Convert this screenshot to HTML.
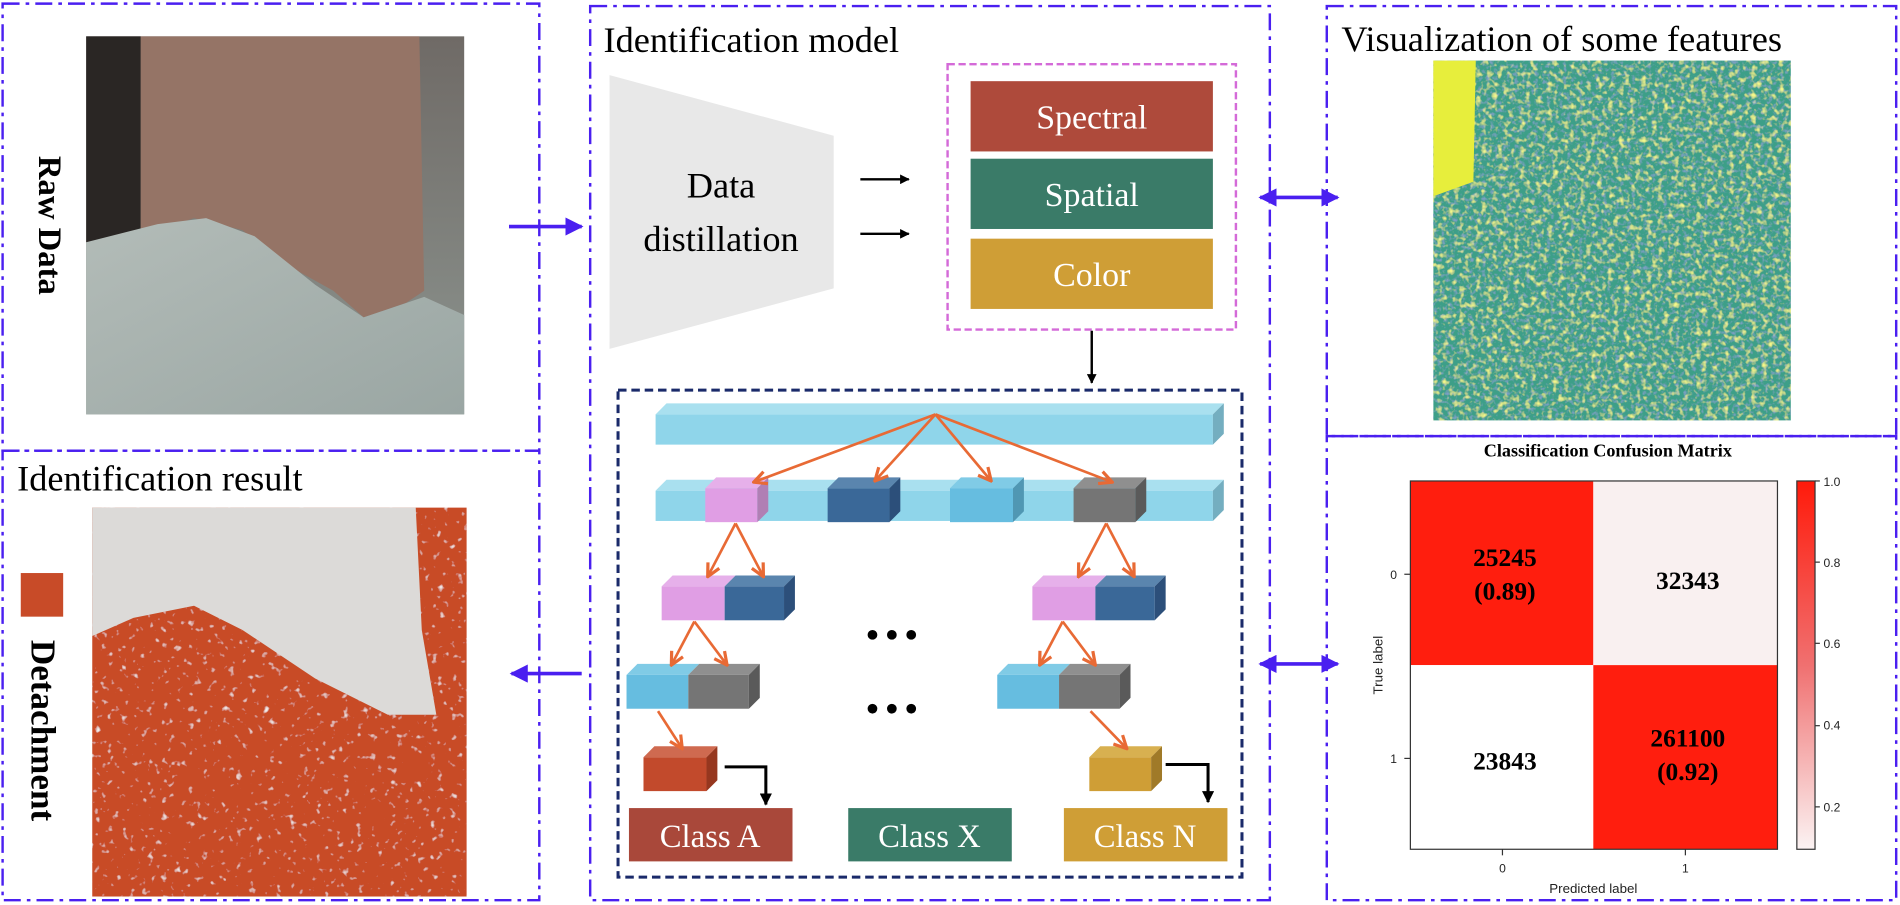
<!DOCTYPE html>
<html><head><meta charset="utf-8"><style>
html,body{margin:0;padding:0;background:#fff;width:1900px;height:905px;overflow:hidden}
svg{display:block}
.t{font-family:"Liberation Serif",serif}
.s{font-family:"Liberation Sans",sans-serif}
</style></head><body>
<svg width="1900" height="905" viewBox="0 0 1568 747" xmlns="http://www.w3.org/2000/svg">
<defs>
<marker id="ab" viewBox="0 0 10 10" refX="9" refY="5" markerWidth="5" markerHeight="5" orient="auto-start-reverse"><path d="M0,0 L10,5 L0,10 z" fill="#4a1ff0"/></marker>
<marker id="ak" viewBox="0 0 10 10" refX="9" refY="5" markerWidth="4" markerHeight="4" orient="auto"><path d="M0,0 L10,5 L0,10 z" fill="#000"/></marker>
<marker id="ao" viewBox="0 0 10 10" refX="9" refY="5" markerWidth="6" markerHeight="6" orient="auto"><path d="M1,1 L9,5 L1,9" fill="none" stroke="#e86a35" stroke-width="2"/></marker>
<linearGradient id="cb" x1="0" y1="0" x2="0" y2="1"><stop offset="0" stop-color="#ff1a0a"/><stop offset="0.5" stop-color="#f07070"/><stop offset="1" stop-color="#fbf3f3"/></linearGradient>
<linearGradient id="raw" x1="0" y1="0" x2="0" y2="1"><stop offset="0" stop-color="#6f6a66"/><stop offset="1" stop-color="#8d9590"/></linearGradient>
<linearGradient id="gr" x1="0" y1="0" x2="1" y2="1"><stop offset="0" stop-color="#b3bcb8"/><stop offset="1" stop-color="#9aa6a3"/></linearGradient>
<filter id="noise" x="0" y="0" width="100%" height="100%">
<feTurbulence type="fractalNoise" baseFrequency="0.22" numOctaves="2" seed="3" result="n1"/>
<feColorMatrix in="n1" type="matrix" values="0 0 0 0 0.9  0 0 0 0 0.93  0 0 0 0 0.25  3 0 0 0 -1.55" result="y"/>
<feTurbulence type="fractalNoise" baseFrequency="0.3" numOctaves="2" seed="11" result="n2"/>
<feColorMatrix in="n2" type="matrix" values="0 0 0 0 0.2  0 0 0 0 0.35  0 0 0 0 0.55  3 0 0 0 -1.5" result="b"/>
<feMerge><feMergeNode in="SourceGraphic"/><feMergeNode in="b"/><feMergeNode in="y"/></feMerge>
</filter>
<filter id="noise2" x="0" y="0" width="100%" height="100%">
<feTurbulence type="fractalNoise" baseFrequency="0.18" numOctaves="2" seed="7"/>
<feColorMatrix type="matrix" values="0 0 0 0 0.9  0 0 0 0 0.88  0 0 0 0 0.86  4 0 0 0 -2.6"/>
<feComposite in2="SourceGraphic" operator="over"/>
</filter>
</defs>
<g fill="none" stroke="#4a1ff0" stroke-width="2" stroke-dasharray="14,5,3,5">
<rect x="2" y="3" width="443" height="369"/>
<rect x="2" y="372" width="443" height="371"/>
<rect x="487" y="5" width="561" height="738"/>
<rect x="1095" y="5" width="470" height="355"/>
<rect x="1095" y="360" width="470" height="383"/>
</g>
<rect x="71" y="30" width="312" height="312" fill="url(#raw)"/>
<rect x="71" y="30" width="45" height="170" fill="#2a2624"/>
<path d="M116,30 L346,30 L350,240 L335,250 L300,262 L275,240 L230,215 L200,190 L160,180 L130,190 L116,200 Z" fill="#957466"/>
<path d="M71,200 L130,185 L170,180 L210,195 L260,235 L300,262 L350,245 L383,260 L383,342 L71,342 Z" fill="url(#gr)"/>
<text class="t" font-weight="bold" font-size="27" transform="translate(32,186) rotate(90)" text-anchor="middle">Raw Data</text>
<line x1="420" y1="187" x2="480" y2="187" stroke="#4a1ff0" stroke-width="3" marker-end="url(#ab)"/>
<text class="t" x="14" y="405" font-size="30">Identification result</text>
<rect x="76" y="419" width="309" height="321" fill="#c84b28" filter="url(#noise2)"/>
<path d="M76,419 L343,419 L348,520 L360,590 L320,590 L260,560 L200,520 L160,500 L110,510 L76,525 Z" fill="#dcdad8"/>
<rect x="17" y="473" width="35" height="36" fill="#c84b28"/>
<text class="t" font-weight="bold" font-size="29" transform="translate(26,603) rotate(90)" text-anchor="middle">Detachment</text>
<line x1="480" y1="556" x2="422" y2="556" stroke="#4a1ff0" stroke-width="3" marker-end="url(#ab)"/>
<text class="t" x="498" y="43" font-size="30">Identification model</text>
<polygon points="503,62 688,112 688,238 503,288" fill="#e8e8e8"/>
<text class="t" x="595" y="163" font-size="30" text-anchor="middle">Data</text>
<text class="t" x="595" y="207" font-size="30" text-anchor="middle">distillation</text>
<line x1="710" y1="148" x2="750" y2="148" stroke="#000" stroke-width="2" marker-end="url(#ak)"/>
<line x1="710" y1="193" x2="750" y2="193" stroke="#000" stroke-width="2" marker-end="url(#ak)"/>
<rect x="782" y="53" width="238" height="219" fill="none" stroke="#d46ad8" stroke-width="2" stroke-dasharray="6,3"/>
<rect x="801" y="67" width="200" height="58" fill="#ae4a3b"/>
<rect x="801" y="131" width="200" height="58" fill="#3a7b68"/>
<rect x="801" y="197" width="200" height="58" fill="#cf9e36"/>
<g class="t" fill="#fff" font-size="28" text-anchor="middle">
<text x="901" y="106">Spectral</text><text x="901" y="170">Spatial</text><text x="901" y="236">Color</text></g>
<line x1="901" y1="273" x2="901" y2="316" stroke="#000" stroke-width="2" marker-end="url(#ak)"/>
<rect x="510" y="322" width="515" height="402" fill="none" stroke="#1a2a6a" stroke-width="2.5" stroke-dasharray="7,4"/>
<g>
<rect x="541" y="342" width="460" height="25" fill="#8fd5ea"/><polygon points="541,342 550,333 1010,333 1001,342" fill="#a9e0ef"/><polygon points="1001,342 1010,333 1010,358 1001,367" fill="#74aec0"/>
<rect x="541" y="405" width="460" height="25" fill="#8fd5ea"/><polygon points="541,405 550,396 1010,396 1001,405" fill="#a9e0ef"/><polygon points="1001,405 1010,396 1010,421 1001,430" fill="#74aec0"/>
</g>
<g>
<rect x="582" y="403" width="43" height="28" fill="#e09ee4"/><polygon points="582,403 591,394 634,394 625,403" fill="#e6b0ea"/><polygon points="625,403 634,394 634,422 625,431" fill="#b07fb4"/>
<rect x="683" y="403" width="51" height="28" fill="#3a6898"/><polygon points="683,403 692,394 743,394 734,403" fill="#5a85ae"/><polygon points="734,403 743,394 743,422 734,431" fill="#2c4f7a"/>
<rect x="784" y="403" width="52" height="28" fill="#66bde0"/><polygon points="784,403 793,394 845,394 836,403" fill="#80cbe6"/><polygon points="836,403 845,394 845,422 836,431" fill="#5097b3"/>
<rect x="886" y="403" width="51" height="28" fill="#757575"/><polygon points="886,403 895,394 946,394 937,403" fill="#8f8f8f"/><polygon points="937,403 946,394 946,422 937,431" fill="#5a5a5a"/>
</g>
<g>
<rect x="546" y="484" width="52" height="28" fill="#e09ee4"/><polygon points="546,484 555,475 607,475 598,484" fill="#e6b0ea"/>
<rect x="598" y="484" width="49" height="28" fill="#3a6898"/><polygon points="598,484 607,475 656,475 647,484" fill="#5a85ae"/><polygon points="647,484 656,475 656,503 647,512" fill="#2c4f7a"/>
<rect x="852" y="484" width="52" height="28" fill="#e09ee4"/><polygon points="852,484 861,475 913,475 904,484" fill="#e6b0ea"/>
<rect x="904" y="484" width="49" height="28" fill="#3a6898"/><polygon points="904,484 913,475 962,475 953,484" fill="#5a85ae"/><polygon points="953,484 962,475 962,503 953,512" fill="#2c4f7a"/>
<rect x="517" y="557" width="51" height="28" fill="#66bde0"/><polygon points="517,557 526,548 577,548 568,557" fill="#80cbe6"/>
<rect x="568" y="557" width="50" height="28" fill="#757575"/><polygon points="568,557 577,548 627,548 618,557" fill="#8f8f8f"/><polygon points="618,557 627,548 627,576 618,585" fill="#5a5a5a"/>
<rect x="823" y="557" width="51" height="28" fill="#66bde0"/><polygon points="823,557 832,548 883,548 874,557" fill="#80cbe6"/>
<rect x="874" y="557" width="50" height="28" fill="#757575"/><polygon points="874,557 883,548 933,548 924,557" fill="#8f8f8f"/><polygon points="924,557 933,548 933,576 924,585" fill="#5a5a5a"/>
<rect x="531" y="625" width="52" height="28" fill="#c24a2c"/><polygon points="531,625 540,616 592,616 583,625" fill="#cf6a50"/><polygon points="583,625 592,616 592,644 583,653" fill="#96371f"/>
<rect x="899" y="625" width="51" height="28" fill="#cf9e36"/><polygon points="899,625 908,616 959,616 950,625" fill="#d8b050"/><polygon points="950,625 959,616 959,644 950,653" fill="#a07a28"/>
</g>
<g stroke="#e86a35" stroke-width="2.2" fill="none" marker-end="url(#ao)">
<line x1="772" y1="342" x2="622" y2="398"/><line x1="772" y1="342" x2="722" y2="397"/><line x1="772" y1="342" x2="818" y2="397"/><line x1="772" y1="342" x2="918" y2="398"/>
<line x1="607" y1="432" x2="584" y2="476"/><line x1="607" y1="432" x2="630" y2="476"/>
<line x1="913" y1="432" x2="890" y2="476"/><line x1="913" y1="432" x2="936" y2="476"/>
<line x1="573" y1="513" x2="554" y2="549"/><line x1="573" y1="513" x2="600" y2="549"/>
<line x1="877" y1="513" x2="858" y2="549"/><line x1="877" y1="513" x2="904" y2="549"/>
<line x1="543" y1="587" x2="563" y2="618"/><line x1="900" y1="587" x2="930" y2="618"/>
</g>
<g fill="#000"><circle cx="720" cy="524" r="4"/><circle cx="736" cy="524" r="4"/><circle cx="752" cy="524" r="4"/>
<circle cx="720" cy="585" r="4"/><circle cx="736" cy="585" r="4"/><circle cx="752" cy="585" r="4"/></g>
<polyline points="598,633 632,633 632,664" fill="none" stroke="#000" stroke-width="2.5" marker-end="url(#ak)"/>
<polyline points="962,631 997,631 997,662" fill="none" stroke="#000" stroke-width="2.5" marker-end="url(#ak)"/>
<rect x="519" y="667" width="135" height="44" fill="#a9483a"/>
<rect x="700" y="667" width="135" height="44" fill="#3a7b68"/>
<rect x="878" y="667" width="135" height="44" fill="#cf9e36"/>
<g class="t" fill="#fff" font-size="27" text-anchor="middle"><text x="586" y="699">Class A</text><text x="767" y="699">Class X</text><text x="945" y="699">Class N</text></g>
<line x1="1040" y1="163" x2="1104" y2="163" stroke="#4a1ff0" stroke-width="3" marker-start="url(#ab)" marker-end="url(#ab)"/>
<line x1="1040" y1="548" x2="1104" y2="548" stroke="#4a1ff0" stroke-width="3" marker-start="url(#ab)" marker-end="url(#ab)"/>
<text class="t" x="1107" y="42" font-size="30">Visualization of some features</text>
<rect x="1183" y="50" width="295" height="297" fill="#3e9f88" filter="url(#noise)"/>
<path d="M1183,50 L1218,50 L1216,150 L1183,162 Z" fill="#e7ee3c"/>
<text class="t" x="1327" y="377" font-size="15" font-weight="bold" text-anchor="middle">Classification Confusion Matrix</text>
<rect x="1164" y="397" width="151" height="152" fill="#ff1e0e"/>
<rect x="1315" y="397" width="152" height="152" fill="#f9f0f0"/>
<rect x="1164" y="549" width="151" height="152" fill="#fff"/>
<rect x="1315" y="549" width="152" height="152" fill="#ff1e0e"/>
<rect x="1164" y="397" width="303" height="304" fill="none" stroke="#333" stroke-width="1"/>
<g class="t" font-weight="bold" font-size="21" text-anchor="middle">
<text x="1242" y="467">25245</text><text x="1242" y="495">(0.89)</text>
<text x="1393" y="486">32343</text>
<text x="1242" y="635">23843</text>
<text x="1393" y="616">261100</text><text x="1393" y="644">(0.92)</text></g>
<rect x="1483" y="397" width="15" height="304" fill="url(#cb)" stroke="#333" stroke-width="1"/>
<g class="s" font-size="10" fill="#222">
<text x="1505" y="401">1.0</text><text x="1505" y="468">0.8</text><text x="1505" y="535">0.6</text><text x="1505" y="602">0.4</text><text x="1505" y="670">0.2</text>
<text x="1153" y="478" text-anchor="end">0</text><text x="1153" y="630" text-anchor="end">1</text>
<text x="1240" y="720" text-anchor="middle">0</text><text x="1391" y="720" text-anchor="middle">1</text>
<text x="1315" y="737" text-anchor="middle" font-size="11">Predicted label</text>
<text transform="translate(1141,549) rotate(-90)" text-anchor="middle" font-size="11">True label</text>
</g>
<g stroke="#333" stroke-width="1"><line x1="1159" y1="474" x2="1164" y2="474"/><line x1="1159" y1="626" x2="1164" y2="626"/><line x1="1240" y1="701" x2="1240" y2="706"/><line x1="1391" y1="701" x2="1391" y2="706"/>
<line x1="1498" y1="397" x2="1502" y2="397"/><line x1="1498" y1="464" x2="1502" y2="464"/><line x1="1498" y1="531" x2="1502" y2="531"/><line x1="1498" y1="599" x2="1502" y2="599"/><line x1="1498" y1="666" x2="1502" y2="666"/></g>
</svg>
</body></html>
